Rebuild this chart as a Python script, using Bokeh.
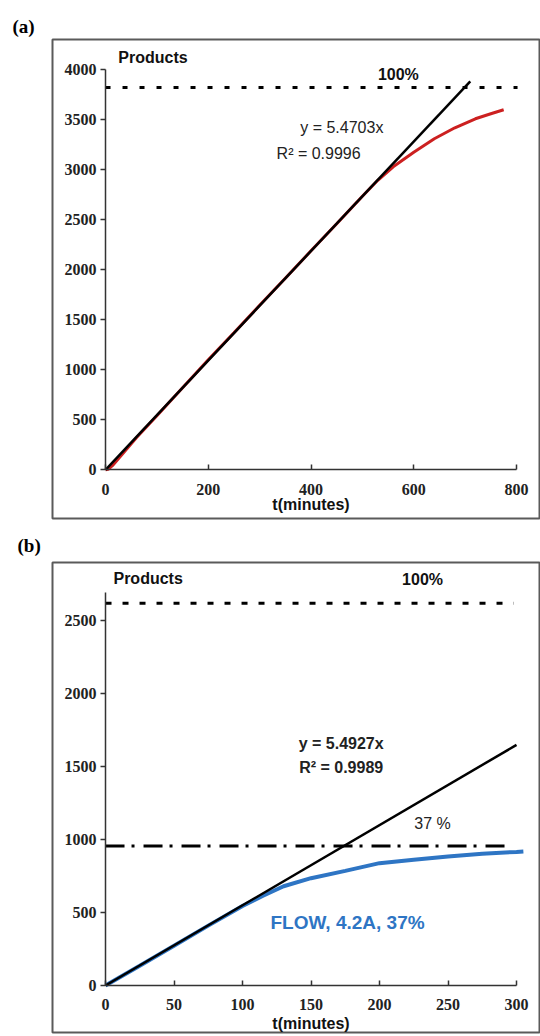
from bokeh.plotting import figure
from bokeh.layouts import column
from bokeh.models import Title, Range1d, FixedTicker
from bokeh.embed import file_html
from bokeh.resources import INLINE
from bokeh.core.properties import value

# ---------------- data: panel (a) ----------------
a_t = [0, 5, 15, 30, 60, 100, 150, 200, 250, 300, 350, 400, 450, 500, 530, 560,
       600, 640, 680, 720, 750, 775]
a_products = [0, 5, 50, 140, 320, 540, 820, 1100, 1370, 1645, 1915, 2190, 2460, 2735,
              2895, 3030, 3175, 3310, 3420, 3510, 3560, 3600]
a_slope = 5.4703
a_r2 = 0.9996
a_fit_t = [0, 710]
a_full_level = 3823
a_full_t = [0, 802]
a_xticks = [0, 200, 400, 600, 800]
a_yticks = [0, 500, 1000, 1500, 2000, 2500, 3000, 3500, 4000]

# ---------------- data: panel (b) ----------------
b_t = [0, 25, 50, 75, 100, 115, 130, 150, 175, 200, 225, 250, 275, 300, 305]
b_products = [0, 135, 272, 410, 545, 615, 680, 735, 785, 838, 862, 884, 902, 915, 918]
b_slope = 5.4927
b_r2 = 0.9989
b_fit_t = [0, 300]
b_full_level = 2618
b_full_t = [0, 298]
b_flow_level = 955
b_flow_t = [0, 296]
b_xticks = [0, 50, 100, 150, 200, 250, 300]
b_yticks = [0, 500, 1000, 1500, 2000, 2500]

SANS = "Liberation Sans"
SERIF = "Liberation Serif"


def base_fig(height, top, bottom, xr, yr, tag, tag_offset, tag_standoff):
    p = figure(width=540, height=height, x_range=Range1d(*xr), y_range=Range1d(*yr),
               output_backend="svg", toolbar_location=None,
               min_border_left=52, min_border_right=0,
               min_border_top=top, min_border_bottom=bottom,
               background_fill_color="white", border_fill_color="white")
    p.grid.visible = False
    p.outline_line_color = "#5a5a5a"
    p.outline_line_width = 2
    t = Title(text=tag, align="left", offset=tag_offset, standoff=tag_standoff,
              text_font=SERIF, text_font_style="bold", text_font_size="19px",
              text_color="black")
    p.add_layout(t, "above")
    for ax in (p.xaxis[0], p.yaxis[0]):
        ax.fixed_location = 0
        ax.axis_line_color = "#333333"
        ax.axis_line_width = 1.5
        ax.major_tick_line_color = "#333333"
        ax.major_tick_line_width = 1.5
        ax.minor_tick_line_color = None
        ax.major_label_text_font = SERIF
        ax.major_label_text_font_style = "bold"
        ax.major_label_text_font_size = "16px"
        ax.major_label_text_color = "#222222"
    p.yaxis.major_tick_out = 5
    p.yaxis.major_tick_in = 0
    p.yaxis.major_label_standoff = 4
    p.xaxis.major_tick_in = 5
    p.xaxis.major_tick_out = 0
    p.xaxis.major_label_standoff = 14
    p.xaxis.axis_label = "t(minutes)"
    p.xaxis.axis_label_text_font = SANS
    p.xaxis.axis_label_text_font_style = "bold"
    p.xaxis.axis_label_text_font_size = "16px"
    p.xaxis.axis_label_text_color = "#111111"
    return p


def txt(p, x, y, s, size="16px", bold=False, color="#222222", align="left"):
    p.text(x=[x], y=[y], text=[s], text_font=value(SANS),
           text_font_size=value(size), text_font_style="bold" if bold else "normal",
           text_color=color, text_align=align, text_baseline="middle")


# ---------------- panel (a) ----------------
pa = base_fig(526, 39, 8, (-103.2, 846.7), (-487, 4303), "(a)", -40, 5)
pa.xaxis.ticker = FixedTicker(ticks=a_xticks)
pa.yaxis.ticker = FixedTicker(ticks=a_yticks)
pa.xaxis.bounds = (a_xticks[0], a_xticks[-1])
pa.yaxis.bounds = (a_yticks[0], a_yticks[-1])
pa.xaxis.axis_label_standoff = -2

pa.line(a_full_t, [a_full_level] * len(a_full_t), line_color="black",
        line_width=3, line_dash="5 12")
pa.line(a_t, a_products, line_color="#cc2020", line_width=3)
pa.line(a_fit_t, [a_slope * t for t in a_fit_t], line_color="black", line_width=2.5)

txt(pa, 25, 4123, "Products", size="16px", bold=True, color="#111111")
txt(pa, 570, 3953, "100%", size="16px", bold=True, color="#111111", align="center")
txt(pa, 379, 3423, "y = %.4fx" % a_slope, size="16px")
txt(pa, 333, 3160, "R\u00b2 = %.4f" % a_r2, size="16px")

# ---------------- panel (b) ----------------
pb = base_fig(508, 36, 2, (-38.7, 317.5), (-321.9, 2897), "(b)", -35, 13)
pb.xaxis.ticker = FixedTicker(ticks=b_xticks)
pb.yaxis.ticker = FixedTicker(ticks=b_yticks)
pb.xaxis.bounds = (b_xticks[0], b_xticks[-1])
pb.yaxis.bounds = (0, 2690)
pb.xaxis.axis_label_standoff = 1

pb.line(b_full_t, [b_full_level] * len(b_full_t), line_color="black",
        line_width=3, line_dash="6 11")
pb.line(b_flow_t, [b_flow_level] * len(b_flow_t), line_color="black",
        line_width=3, line_dash="19 7 3 9")
pb.line(b_t, b_products, line_color="#2e75c4", line_width=4)
pb.line(b_fit_t, [b_slope * t for t in b_fit_t], line_color="black", line_width=2.5)

txt(pb, 5.8, 2788, "Products", size="16px", bold=True, color="#111111")
txt(pb, 231.4, 2781, "100%", size="16px", bold=True, color="#111111", align="center")
txt(pb, 172, 1658, "y = %.4fx" % b_slope, size="16px", bold=True, align="center")
txt(pb, 172, 1493, "R\u00b2 = %.4f" % b_r2, size="16px", bold=True, align="center")
txt(pb, 238.7, 1110, "37 %", size="16px", align="center")
txt(pb, 120.4, 431.5, "FLOW, 4.2A, 37%", size="19px", bold=True, color="#2e75c4")

layout = column(pa, pb, spacing=0)
open("out.html", "w").write(file_html(layout, INLINE))
